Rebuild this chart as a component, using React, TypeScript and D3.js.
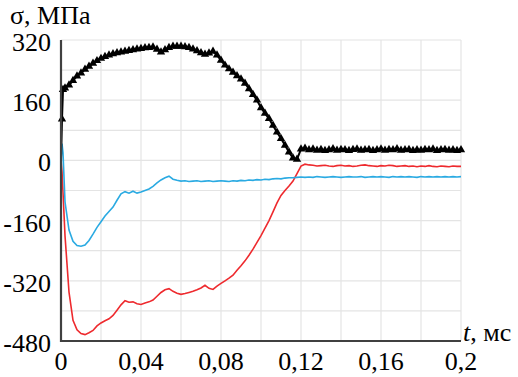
import React from "react";
import * as d3 from "d3";

// ---- data (time in ms, stress in MPa) ----
const onsetTimes = [0, 0.0005, 0.001];
const blackOnset = [0, 110, 188];
const redOnset = [0, -30, -85];
const blueOnset = [0, 45, 20];

const gridStep = 0.002; // main samples at 0.002 … 0.2
const blackValues = [
  192, 200, 212, 224, 232, 242, 250, 258, 265, 271,
  276, 280, 283, 286, 288, 290, 292, 294, 296, 297,
  299, 300, 301, 295, 288, 294, 300, 303, 303, 303,
  302, 300, 296, 291, 286, 282, 285, 290, 280, 266,
  253, 243, 234, 225, 216, 205, 190, 175, 160, 140,
  125, 111, 93, 75, 58, 40, 22, 6, 3, 30,
  32, 28, 30, 27, 29, 26, 28, 31, 27, 29,
  28, 26, 29, 30, 27, 28, 29, 26, 28, 30,
  27, 29, 28, 31, 27, 28, 29, 26, 28, 27,
  29, 28, 30, 26, 28, 29, 27, 28, 26, 28,
];
const redValues = [
  -200, -350, -425, -450, -460, -463, -458, -452, -440, -432,
  -426, -421, -412, -398, -384, -373, -377, -376, -381, -383,
  -379, -376, -371, -361, -351, -344, -341, -348, -353, -356,
  -354, -351, -348, -344, -339, -332, -340, -343, -334, -327,
  -320, -313, -305, -292, -280, -267, -252, -236, -218, -200,
  -180, -160, -137, -113, -93, -80, -68, -55, -35, -15,
  -10, -12, -13, -15, -14, -13, -15, -16, -14, -13,
  -15, -14, -16, -15, -13, -12, -14, -15, -16, -14,
  -15, -13, -14, -16, -15, -14, -16, -15, -17, -15,
  -16, -14, -16, -17, -15, -16, -17, -15, -16, -16,
];
const blueValues = [
  -110, -185, -215, -226, -228, -225, -213, -196, -178, -163,
  -148, -136, -124, -106, -89, -83, -87, -82, -87, -84,
  -80, -76, -69, -60, -52, -46, -42, -50, -53, -55,
  -54, -56, -55, -54, -56, -55, -54, -56, -55, -54,
  -55, -56, -54, -55, -53, -54, -52, -53, -51, -52,
  -50, -51, -49, -48, -49, -47, -46, -46, -45, -44,
  -45, -44, -45, -43, -44, -45, -44, -43, -44, -45,
  -44, -43, -44, -44, -43, -45, -44, -43, -44, -43,
  -44, -45, -43, -44, -43, -44, -43, -44, -45, -43,
  -44, -43, -44, -43, -44, -43, -44, -43, -44, -43,
];

const xTicks = [0, 0.04, 0.08, 0.12, 0.16, 0.2];
const xTickLabels = ["0", "0,04", "0,08", "0,12", "0,16", "0,2"];
const xGrid = [0.02, 0.04, 0.06, 0.08, 0.1, 0.12, 0.14, 0.16, 0.18, 0.2];
const yTicks = [320, 160, 0, -160, -320, -480];
const yGrid = [320, 240, 160, 80, 0, -80, -160, -240, -320, -400];

const W = 518;
const H = 377;
const FONT = '"Liberation Serif", "Times New Roman", Times, serif';

type Pt = [number, number];
function buildSeries(onset: number[], values: number[]): Pt[] {
  const pts: Pt[] = onsetTimes.map((t, i) => [t, onset[i]] as Pt);
  values.forEach((v, i) => pts.push([+(gridStep * (i + 1)).toFixed(4), v]));
  return pts;
}

export default function App() {
  const x = d3.scaleLinear().domain([0, 0.2]).range([61, 461]);
  const y = d3.scaleLinear().domain([-480, 320]).range([341, 40]);

  const black = buildSeries(blackOnset, blackValues);
  const red = buildSeries(redOnset, redValues);
  const blue = buildSeries(blueOnset, blueValues);

  const line = d3
    .line<Pt>()
    .x((d) => x(d[0]))
    .y((d) => y(d[1]));
  const tri = d3.symbol().type(d3.symbolTriangle).size(30)();
  const txt: React.CSSProperties = { fontFamily: FONT, fontSize: 26 };

  return (
    <svg
      width={W}
      height={H}
      style={{ position: "absolute", left: 0, top: 0, background: "#fff" }}
    >
      {/* grid */}
      <g stroke="#e4e4e4" strokeWidth={1.2}>
        {xGrid.map((t) => (
          <line key={"gx" + t} x1={x(t)} x2={x(t)} y1={y(320)} y2={y(-480)} />
        ))}
        {yGrid.map((v) => (
          <line key={"gy" + v} x1={x(0)} x2={x(0.2)} y1={y(v)} y2={y(v)} />
        ))}
      </g>

      {/* series */}
      <path d={line(red) || ""} fill="none" stroke="#ee2a2e" strokeWidth={1.6} />
      <path d={line(blue) || ""} fill="none" stroke="#2aaae2" strokeWidth={1.6} />
      <path d={line(black) || ""} fill="none" stroke="#000" strokeWidth={2} />
      <g fill="#000">
        {black.slice(1).map((d, i) => (
          <path key={"m" + i} d={tri || ""} transform={`translate(${x(d[0])},${y(d[1])})`} />
        ))}
      </g>

      {/* axes */}
      <line x1={x(0)} x2={x(0)} y1={y(320)} y2={y(-480) + 1} stroke="#404040" strokeWidth={2.2} />
      <line x1={x(0) - 1} x2={x(0.2)} y1={y(-480)} y2={y(-480)} stroke="#404040" strokeWidth={2.2} />

      {/* tick labels */}
      <g fill="#000">
        {yTicks.map((v) => (
          <text key={"yl" + v} x={51} y={y(v) + 11} textAnchor="end" style={txt}>
            {v}
          </text>
        ))}
        {xTicks.map((t, i) => (
          <text key={"xl" + t} x={x(t)} y={370} textAnchor="middle" style={txt}>
            {xTickLabels[i]}
          </text>
        ))}
      </g>

      {/* axis titles */}
      <text x={10} y={24} fill="#000" style={txt}>
        σ, МПа
      </text>
      <text x={463} y={341} fill="#000" style={txt}>
        <tspan fontStyle="italic">t</tspan>, мс
      </text>
    </svg>
  );
}
